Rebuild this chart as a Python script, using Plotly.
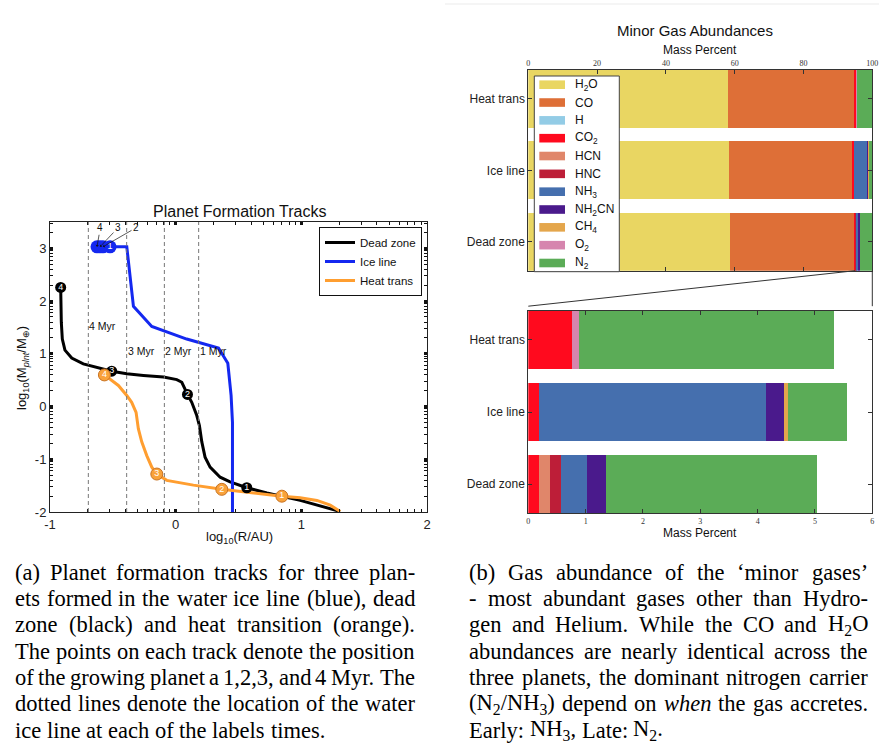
import re
import math
import plotly.graph_objects as go

W, H = 879, 744

# ---------------- Panel (a) data ----------------
DEAD_X = [1.309, 0.991, 0.726, 0.566, 0.433, 0.354, 0.274, 0.234, 0.208, 0.189, 0.168, 0.128, 0.094,
          0.049, 0.009, -0.097, -0.257, -0.389, -0.509, -0.628, -0.735, -0.827, -0.881, -0.902, -0.910, -0.915]
DEAD_Y = [-1.99, -1.78, -1.64, -1.54, -1.43, -1.34, -1.15, -0.96, -0.67, -0.36, -0.17, 0.08, 0.23,
          0.46, 0.51, 0.56, 0.59, 0.62, 0.67, 0.74, 0.81, 0.92, 1.07, 1.28, 1.60, 2.26]
ICE_X = [0.452, 0.452, 0.441, 0.415, 0.341, 0.088, -0.190, -0.336, -0.389, -0.522, -0.578, -0.602, -0.626]
ICE_Y = [-2.0, -0.30, 0.21, 0.82, 1.11, 1.28, 1.52, 1.90, 3.03, 3.03, 3.03, 3.03, 3.03]
HEAT_X = [1.309, 1.23, 1.124, 0.991, 0.845, 0.619, 0.367, 0.141, -0.071, -0.150, -0.19, -0.23, -0.27,
          -0.297, -0.315, -0.35, -0.389, -0.456, -0.567]
HEAT_Y = [-1.99, -1.87, -1.78, -1.73, -1.70, -1.64, -1.57, -1.49, -1.40, -1.28, -1.15, -0.93, -0.67,
          -0.42, -0.11, 0.08, 0.21, 0.40, 0.60]

PT_LABELS = ["1", "2", "3", "4"]
DEAD_PX = [0.566, 0.094, -0.509, -0.915]
DEAD_PY = [-1.54, 0.23, 0.67, 2.26]
ICE_PX = [-0.522, -0.578, -0.602, -0.626]
ICE_PY = [3.03, 3.03, 3.03, 3.03]
HEAT_PX = [0.845, 0.367, -0.150, -0.567]
HEAT_PY = [-1.70, -1.57, -1.28, 0.60]

SNOW_X = [0.183, -0.09, -0.39, -0.695]          # ice line location at 1,2,3,4 Myr
SNOW_LABELS = ["1 Myr", "2 Myr", "3 Myr", "4 Myr"]
SNOW_LABEL_Y = [1.05, 1.05, 1.05, 1.52]

X_TICKS = [-1, 0, 1, 2]
X_TICK_TEXT = ["-1", "0", "1", "2"]
Y_TICKS = [-2, -1, 0, 1, 2, 3]
Y_TICK_TEXT = ["-2", "-1", "0", "1", "2", "3"]

# ---------------- Panel (b) data ----------------
CATEGORIES = ["Heat trans", "Ice line", "Dead zone"]
GAS_LABELS = ["H<sub>2</sub>O", "CO", "H", "CO<sub>2</sub>", "HCN", "HNC", "NH<sub>3</sub>",
              "NH<sub>2</sub>CN", "CH<sub>4</sub>", "O<sub>2</sub>", "N<sub>2</sub>"]
GAS_COLORS = ["#E9D662", "#DE6F37", "#93CCE6", "#FF0A1E", "#E0866A", "#BD1E38", "#456FAE",
              "#4A1A8C", "#E4A64C", "#D685AE", "#5BAC57"]
H2O = [58.0, 58.3, 58.7]
CO = [36.67, 36.14, 36.25]
HYD = [0.0, 0.0, 0.0]
CO2 = [0.77, 0.19, 0.19]
HCN = [0.0, 0.0, 0.18]
HNC = [0.0, 0.0, 0.20]
NH3 = [0.0, 3.95, 0.45]
NH2CN = [0.0, 0.32, 0.33]
CH4 = [0.0, 0.065, 0.0]
O2 = [0.12, 0.0, 0.0]
N2 = [4.45, 1.03, 3.69]
GAS_VALUES = [H2O, CO, HYD, CO2, HCN, HNC, NH3, NH2CN, CH4, O2, N2]
TOP_TICKS = [0, 20, 40, 60, 80, 100]
BOTTOM_TICKS = [0, 1, 2, 3, 4, 5, 6]
ZOOM_FROM = 95.0

CAPTION_A = [
    "(a) Planet formation tracks for three plan-",
    "ets formed in the water ice line (blue), dead",
    "zone (black) and heat transition (orange).",
    "The points on each track denote the position",
    "of the growing planet a 1,2,3, and 4 Myr. The",
    "dotted lines denote the location of the water",
    "ice line at each of the labels times.",
]
CAPTION_B = [
    "(b) Gas abundance of the \u2018minor gases\u2019",
    "- most abundant gases other than Hydro-",
    "gen and Helium. While the CO and H<sub>2</sub>O",
    "abundances are nearly identical across the",
    "three planets, the dominant nitrogen carrier",
    "(N<sub>2</sub>/NH<sub>3</sub>) depend on <i>when</i> the gas accretes.",
    "Early: NH<sub>3</sub>, Late: N<sub>2</sub>.",
]

SANS = "Liberation Sans, Arial, sans-serif"
SERIF = "Liberation Serif, Times New Roman, serif"

def px(x):
    return x / W

def py(y):
    return 1 - y / H

fig = go.Figure()

# ---- Panel (a) lines ----
LINE_COLORS = {"Dead zone": "#000000", "Ice line": "#1428F0", "Heat trans": "#FF9E30"}
for name, xs, ys in [("Dead zone", DEAD_X, DEAD_Y), ("Ice line", ICE_X, ICE_Y), ("Heat trans", HEAT_X, HEAT_Y)]:
    fig.add_trace(go.Scatter(x=xs, y=ys, mode="lines", name=name,
                             line=dict(color=LINE_COLORS[name], width=3),
                             xaxis="x", yaxis="y", legend="legend"))

# markers
fig.add_trace(go.Scatter(x=DEAD_PX, y=DEAD_PY, mode="markers+text", text=PT_LABELS,
                         textposition="middle center", textfont=dict(color="white", size=9, family=SANS),
                         marker=dict(size=11, color="black"), showlegend=False, xaxis="x", yaxis="y"))
fig.add_trace(go.Scatter(x=HEAT_PX, y=HEAT_PY, mode="markers+text", text=PT_LABELS,
                         textposition="middle center", textfont=dict(color="white", size=9, family=SANS),
                         marker=dict(size=12, color="#F9A23A", line=dict(color="#C87324", width=1)),
                         showlegend=False, xaxis="x", yaxis="y"))
fig.add_trace(go.Scatter(x=ICE_PX[:0:-1], y=ICE_PY[:0:-1], mode="markers",
                         marker=dict(size=13, color="#1428F0"), showlegend=False, xaxis="x", yaxis="y"))
fig.add_trace(go.Scatter(x=ICE_PX[:1], y=ICE_PY[:1], mode="markers+text", text=PT_LABELS[:1],
                         textposition="middle center", textfont=dict(color="white", size=9, family=SANS),
                         marker=dict(size=13, color="#1428F0"), showlegend=False, xaxis="x", yaxis="y"))

# ---- Panel (b) bars ----
for lab, col, vals in zip(GAS_LABELS, GAS_COLORS, GAS_VALUES):
    fig.add_trace(go.Bar(x=vals, y=CATEGORIES, orientation="h", name=lab, marker=dict(color=col, line=dict(width=0)),
                         xaxis="x2", yaxis="y2", showlegend=False))
for lab, col, vals in list(zip(GAS_LABELS, GAS_COLORS, GAS_VALUES))[2:]:
    fig.add_trace(go.Bar(x=vals, y=CATEGORIES, orientation="h", name=lab, marker=dict(color=col, line=dict(width=0)),
                         xaxis="x3", yaxis="y3", showlegend=False))

# ---- axes geometry ----
AX_A = (50, 427, 222, 512)
AX_T = (528.3, 872.3, 70, 270.7)
AX_B = (528.3, 872.3, 310.7, 513.3)

def minor_vals(lo, hi):
    out = []
    for k in range(math.floor(lo), math.ceil(hi) + 1):
        for m in range(2, 10):
            v = k + math.log10(m)
            if lo < v < hi:
                out.append(v)
    return out

common_a = dict(showline=True, linecolor="#222", linewidth=1, mirror="ticks", ticks="inside",
                ticklen=3, tickwidth=3, tickcolor="#111", showgrid=False, zeroline=False, automargin=False,
                tickfont=dict(family=SANS, size=13, color="#222"))
fig.update_layout(
    xaxis=dict(domain=[px(AX_A[0]), px(AX_A[1])], range=[-1, 2], tickvals=X_TICKS, ticktext=X_TICK_TEXT,
               anchor="y", minor=dict(tickvals=minor_vals(-1, 2), ticks="inside", ticklen=3, tickwidth=1,
                                      tickcolor="#111"), **common_a),
    yaxis=dict(domain=[py(AX_A[3]), py(AX_A[2])], range=[-2, 3.5], tickvals=Y_TICKS, ticktext=Y_TICK_TEXT,
               anchor="x", minor=dict(tickvals=minor_vals(-2, 3.5), ticks="inside", ticklen=3, tickwidth=1,
                                      tickcolor="#111"), **common_a),
)

bar_x = dict(showline=True, linecolor="#333", linewidth=1, mirror="ticks", ticks="inside", ticklen=4,
             tickcolor="#333", showgrid=False, zeroline=False, automargin=False,
             tickfont=dict(family=SERIF, size=8, color="#333"))
bar_y = dict(showline=True, linecolor="#333", linewidth=1, mirror="ticks", ticks="inside", ticklen=4,
             tickcolor="#333", showgrid=False, zeroline=False, type="category", automargin=False,
             categoryorder="array", categoryarray=CATEGORIES[::-1], range=[-0.405, 2.405],
             tickfont=dict(family=SANS, size=12, color="#222"))
fig.update_layout(
    xaxis2=dict(domain=[px(AX_T[0]), px(AX_T[1])], range=[0, 100], tickvals=TOP_TICKS, side="top",
                anchor="y2", **bar_x),
    yaxis2=dict(domain=[py(AX_T[3]), py(AX_T[2])], anchor="x2", **bar_y),
    xaxis3=dict(domain=[px(AX_B[0]), px(AX_B[1])], range=[0, 6], tickvals=BOTTOM_TICKS, anchor="y3", **bar_x),
    yaxis3=dict(domain=[py(AX_B[3]), py(AX_B[2])], anchor="x3", **bar_y),
    barmode="stack", bargap=0.19,
)

# ---- legend (panel a) ----
fig.update_layout(
    legend=dict(x=px(319), y=py(227), xanchor="left", yanchor="top", bgcolor="white",
                bordercolor="#111", borderwidth=1, font=dict(family=SANS, size=11.5, color="#111"),
                tracegroupgap=0, traceorder="normal"),
)

shapes = []
ann = []

# dashed ice-line markers
for xv in SNOW_X:
    shapes.append(dict(type="line", xref="x", yref="y domain", x0=xv, x1=xv, y0=0, y1=1,
                       line=dict(color="#777", width=1, dash="4px,3px")))
# zoom connectors
t_left, t_right = px(AX_T[0]), px(AX_T[1])
b_top = py(AX_B[2]) + 4.5 / H
shapes.append(dict(type="line", xref="paper", yref="paper",
                   x0=t_left + (t_right - t_left) * ZOOM_FROM / 100, y0=py(AX_T[3]),
                   x1=px(AX_B[0]), y1=b_top, line=dict(color="#333", width=1)))
shapes.append(dict(type="line", xref="paper", yref="paper", x0=t_right, y0=py(AX_T[3]),
                   x1=px(AX_B[1]), y1=b_top, line=dict(color="#333", width=1)))
shapes.append(dict(type="line", xref="paper", yref="paper", x0=px(445), x1=1, y0=py(4), y1=py(4),
                   line=dict(color="#ebebeb", width=1)))

# ---- legend (panel b), matplotlib-style wide patches ----
LEG_BOX = (534.3, 619.3, 76, 271.7)
shapes.append(dict(type="rect", xref="paper", yref="paper", x0=px(LEG_BOX[0]), x1=px(LEG_BOX[1]),
                   y0=py(LEG_BOX[3]), y1=py(LEG_BOX[2]), fillcolor="white",
                   line=dict(color="#444", width=1), layer="above"))
step = (LEG_BOX[3] - LEG_BOX[2] - 17.4) / (len(GAS_LABELS) - 1)
for k, (lab, col) in enumerate(zip(GAS_LABELS, GAS_COLORS)):
    yc = LEG_BOX[2] + 8.7 + k * step
    shapes.append(dict(type="rect", xref="paper", yref="paper", x0=px(539.3), x1=px(565),
                       y0=py(yc + 4.3), y1=py(yc - 4.3), fillcolor=col, line=dict(width=0), layer="above"))
    ann.append(dict(text=lab, x=px(573.5), y=py(yc), xref="paper", yref="paper", showarrow=False,
                    xanchor="left", yanchor="middle", borderpad=0,
                    font=dict(family=SANS, size=12, color="#111")))

def label(text, x, y, size, family=SANS, angle=0, color="#111"):
    ann.append(dict(text=text, x=px(x), y=py(y), xref="paper", yref="paper", showarrow=False,
                    xanchor="center", yanchor="middle", textangle=angle,
                    font=dict(family=family, size=size, color=color)))

label("Planet Formation Tracks", 239, 211, 16)
label("log<sub>10</sub>(R/AU)", 239, 537, 13)
label("log<sub>10</sub>(M<sub><i>plnt</i></sub>/M<sub>\u2295</sub>)", 22, 368, 13, angle=-90)
label("Minor Gas Abundances", 695, 31, 15)
label("Mass Percent", 700, 50, 12)
label("Mass Percent", 700, 533, 12)

for xv, t, yv in zip(SNOW_X, SNOW_LABELS, SNOW_LABEL_Y):
    ann.append(dict(text=t, x=xv, y=yv, xref="x", yref="y", showarrow=False, xanchor="left",
                    yanchor="middle", xshift=-1, font=dict(family=SANS, size=10.5, color="#111")))

# arrows to overlapping ice-line planets
for i, (dx, dy) in zip([3, 2, 1], [(3.3, -19), (18, -19), (33, -19)]):
    ann.append(dict(text=PT_LABELS[i], x=ICE_PX[i], y=ICE_PY[i], xref="x", yref="y", showarrow=True,
                    ax=dx, ay=dy, arrowhead=1, arrowsize=0.8, arrowwidth=0.7, arrowcolor="#111",
                    font=dict(family=SANS, size=10, color="#111")))

# ---- captions, justified word by word (Times metrics) ----
TIMES = dict(zip("abcdefghijklmnopqrstuvwxyz",
                 [444, 500, 444, 500, 444, 333, 500, 500, 278, 278, 500, 278, 778, 500, 500, 500, 500, 333,
                  389, 278, 500, 500, 722, 500, 500, 444]))
TIMES.update(zip("ABCDEFGHIJKLMNOPQRSTUVWXYZ",
                 [722, 667, 667, 722, 611, 556, 722, 722, 333, 389, 722, 611, 889, 722, 722, 556, 722, 667,
                  556, 611, 722, 722, 944, 722, 722, 611]))
TIMES.update({c: 500 for c in "0123456789"})
TIMES.update({" ": 250, "(": 333, ")": 333, ",": 250, ".": 250, "-": 333, ":": 278, "/": 278,
              "\u2018": 333, "\u2019": 333})
ITAL = dict(TIMES)
ITAL.update(zip("abcdefghijklmnopqrstuvwxyz",
                [500, 500, 444, 500, 444, 278, 500, 500, 278, 278, 444, 278, 722, 500, 500, 500, 500, 389,
                 389, 278, 500, 444, 667, 444, 444, 389]))

CAP_SIZE = 22.5

def tw(s, size=CAP_SIZE):
    tot, sc, it = 0.0, 1.0, False
    for tok in re.split(r"(<[^>]+>)", s):
        if tok.startswith("<"):
            if tok == "<sub>":
                sc = 0.7
            elif tok == "</sub>":
                sc = 1.0
            elif tok == "<i>":
                it = True
            elif tok == "</i>":
                it = False
            continue
        for ch in tok:
            tot += (ITAL if it else TIMES).get(ch, 500) * sc
    return tot * size / 1000

def caption(lines, left, right, top):
    for k, line in enumerate(lines):
        yc = top + k * 26.3
        words = line.split(" ")
        last = k == len(lines) - 1
        if last:
            gap = TIMES[" "] * CAP_SIZE / 1000
        else:
            gap = (right - left - sum(tw(w) for w in words)) / (len(words) - 1)
        x = left
        for j, w in enumerate(words):
            if not last and j == len(words) - 1:
                ann.append(dict(text=w, x=px(right), y=py(yc), xref="paper", yref="paper", showarrow=False,
                                xanchor="right", yanchor="middle", borderpad=0, borderwidth=0,
                                font=dict(family=SERIF, size=CAP_SIZE, color="#000")))
            else:
                ann.append(dict(text=w, x=px(x), y=py(yc), xref="paper", yref="paper", showarrow=False,
                                xanchor="left", yanchor="middle", borderpad=0, borderwidth=0,
                                font=dict(family=SERIF, size=CAP_SIZE, color="#000")))
            x += tw(w) + gap

caption(CAPTION_A, 15, 415, 572.3)
caption(CAPTION_B, 469.3, 867.7, 572.3)

fig.update_layout(width=W, height=H, margin=dict(l=0, r=0, t=0, b=0), paper_bgcolor="white",
                  plot_bgcolor="white", shapes=shapes, annotations=ann, showlegend=True)

fig.write_html("out.html", config={"displayModeBar": False},
               post_script="document.body.style.margin='0px';document.body.style.overflow='hidden';")
